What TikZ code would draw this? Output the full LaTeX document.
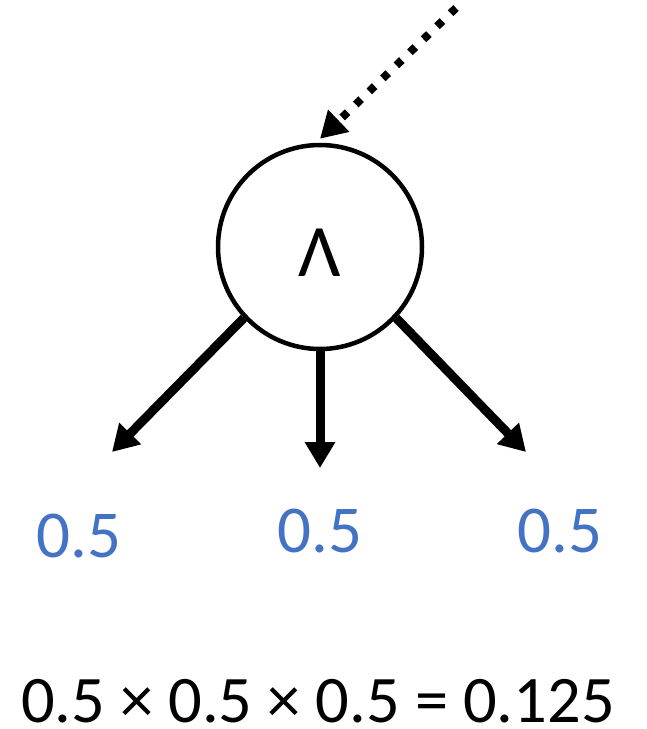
\documentclass[tikz,border=0pt]{standalone}
\usepackage{fontspec}
\setmainfont{Carlito}
\usetikzlibrary{arrows.meta,calc}
\definecolor{probblue}{HTML}{4472C4}
\begin{document}
\begin{tikzpicture}[x=1pt,y=-1pt,
  gate/.style={circle,draw=black,line width=4.5pt,minimum size=204pt,inner sep=0pt},
  edge/.style={line width=9pt,-{Triangle[length=26pt,width=29pt]}},
  feed/.style={line width=8pt,dash pattern=on 7.5pt off 11.3pt,-{Triangle[length=26pt,width=29pt]}},
  prob/.style={text=probblue,font=\fontsize{67}{80}\selectfont,anchor=base,inner sep=0pt},
  product/.style={text=black,font=\fontsize{66.5}{80}\selectfont,anchor=base,inner sep=0pt}]
  \useasboundingbox (0,0) rectangle (646,729);

  % AND gate
  \node[gate] (g) at (320,247) {};
  \node[font=\fontsize{74}{88}\selectfont,inner sep=0pt] (sym) at (320,253) {Λ};

  % incoming (dotted) connector
  \coordinate (src) at (456,8);
  \draw[feed] (src) -- ($(g.north)+(0,-4)$);

  % outgoing branches
  \coordinate (tl) at (112,452);
  \coordinate (tm) at (320,468);
  \coordinate (tr) at (526,452);
  \draw[edge] (g.-137) -- (tl);
  \draw[edge] (g.south) -- (tm);
  \draw[edge] (g.-43) -- (tr);

  % branch probabilities
  \node[prob] (pl) at (79,557) {0.5};
  \node[prob] (pm) at (320,552) {0.5};
  \node[prob] (pr) at (560,552) {0.5};

  % combined probability
  \node[product] (res) at (318,722) {0.5 × 0.5 × 0.5 = 0.125};
\end{tikzpicture}
\end{document}
